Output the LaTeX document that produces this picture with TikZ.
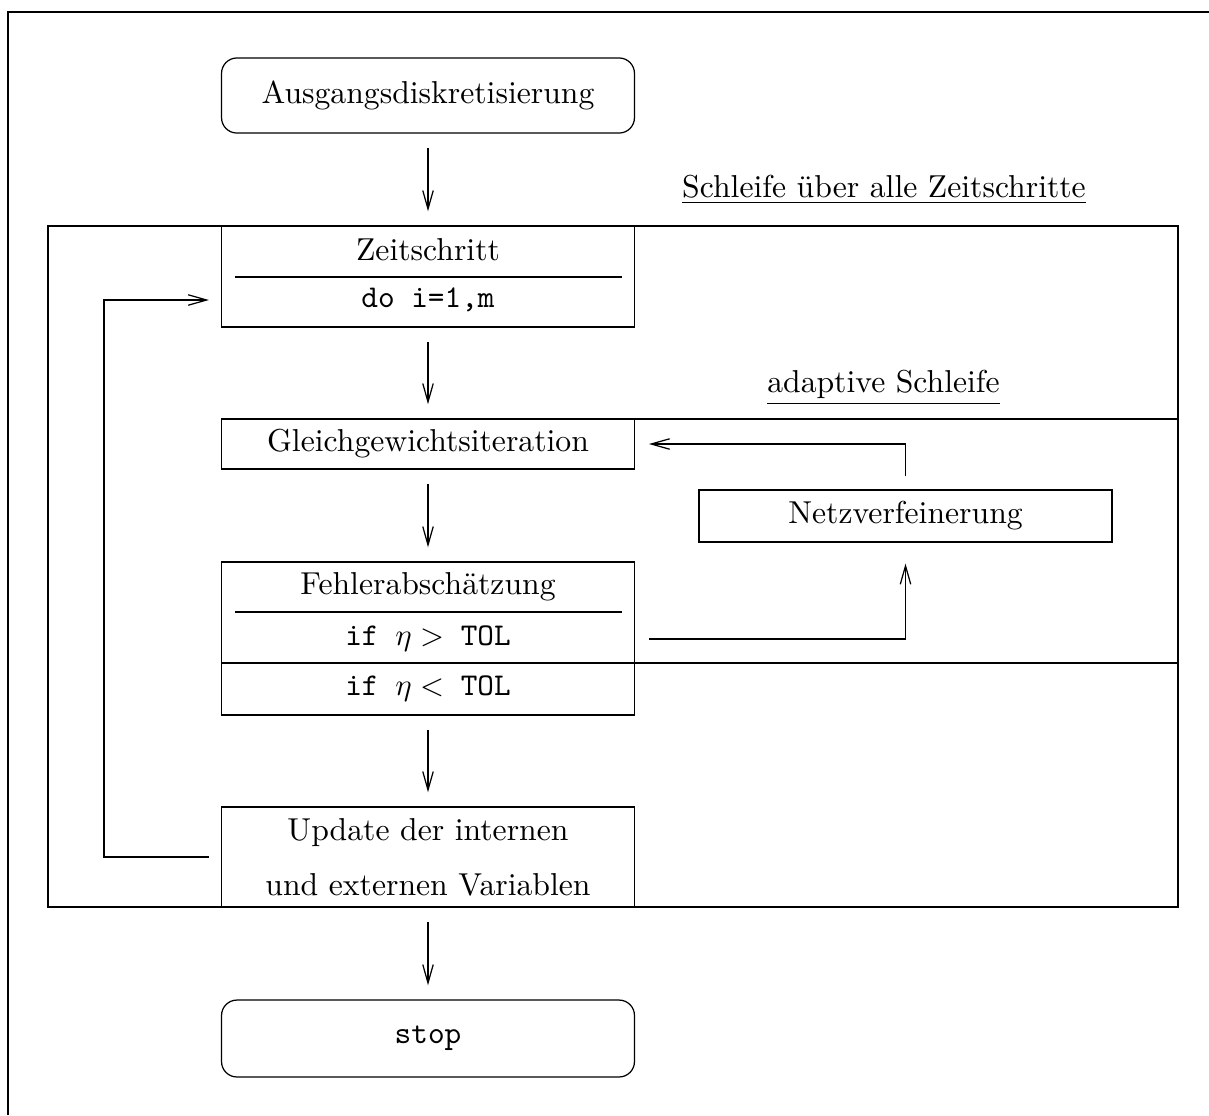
\documentclass[tikz,border=0pt]{standalone}
\usepackage{amsmath, amssymb}
\usetikzlibrary{arrows.meta}

\begin{document}
\begin{tikzpicture}[x=0.325pt, y=-0.325pt,
    every node/.style={font=\fontsize{10.3}{12.4}\selectfont},
    box/.style={draw, minimum width=134.2pt, inner sep=0pt},
    endbox/.style={box, rounded corners=5pt},
    pfeil/.style={-{Straight Barb[length=6pt,width=3.4pt]}, shorten <=4.8pt, shorten >=4.6pt}]
  \useasboundingbox (0,0) rectangle (1209,1115);
  \draw (8,1115) -- (8,12) -- (1209,12);
  % Schleifen
  \draw (48,226) rectangle (1178,907);
  \draw (635,419) -- (1178,419);
  \draw (635,663) -- (1178,663);
  \node (schleife) at (884,190) {\underline{Schleife über alle Zeitschritte}};
  \node (adaptiv) at (883.5,388) {\underline{adaptive Schleife}};
  % Kaesten
  \node[endbox, minimum height=24.4pt] (start) at (428,95.5) {Ausgangsdiskretisierung};
  \node[box, minimum height=32.8pt] (zeit) at (428,276.5) {};
  \node (zeittxt) at (428,250) {Zeitschritt};
  \node (doloop) at (428,300) {\texttt{do i=1,m}};
  \draw (235,277) -- (622,277);
  \node[box, minimum height=16.25pt] (gleich) at (428,444) {Gleichgewichtsiteration};
  \node[box, minimum height=32.8pt] (fehler) at (428,612.5) {};
  \node (fehlertxt) at (428,587) {Fehlerabschätzung};
  \node (ifgt) at (428,639) {\texttt{if $\eta >$ TOL}};
  \draw (235,612) -- (622,612);
  \node[box, minimum height=16.9pt] (iflt) at (428,689) {\texttt{if $\eta <$ TOL}};
  \node[box, minimum height=32.5pt, align=center,
        execute at begin node=\setlength{\baselineskip}{17.9pt}] (upd) at (428,857)
        {Update der internen\\und externen Variablen};
  \node[endbox, minimum height=25pt] (stop) at (428,1038.5) {\texttt{stop}};
  \node[box, minimum height=16.9pt] (netz) at (905.5,516) {Netzverfeinerung};
  % Pfeile
  \draw[pfeil] (start) -- (zeit);
  \draw[pfeil] (zeit) -- (gleich);
  \draw[pfeil] (gleich) -- (fehler);
  \draw[pfeil] (iflt) -- (upd);
  \draw[pfeil] (upd) -- (stop);
  \draw[pfeil, shorten <=3.9pt, shorten >=3.9pt] (upd.west) -- ++(-117,0) |- (zeit.west |- doloop);
  \draw[pfeil, shorten <=4.2pt, shorten >=4.5pt] (netz.north) |- (gleich.east);
  \draw[pfeil, shorten <=4.5pt, shorten >=6.8pt] (fehler.east |- ifgt) -| (netz.south);
\end{tikzpicture}
\end{document}
